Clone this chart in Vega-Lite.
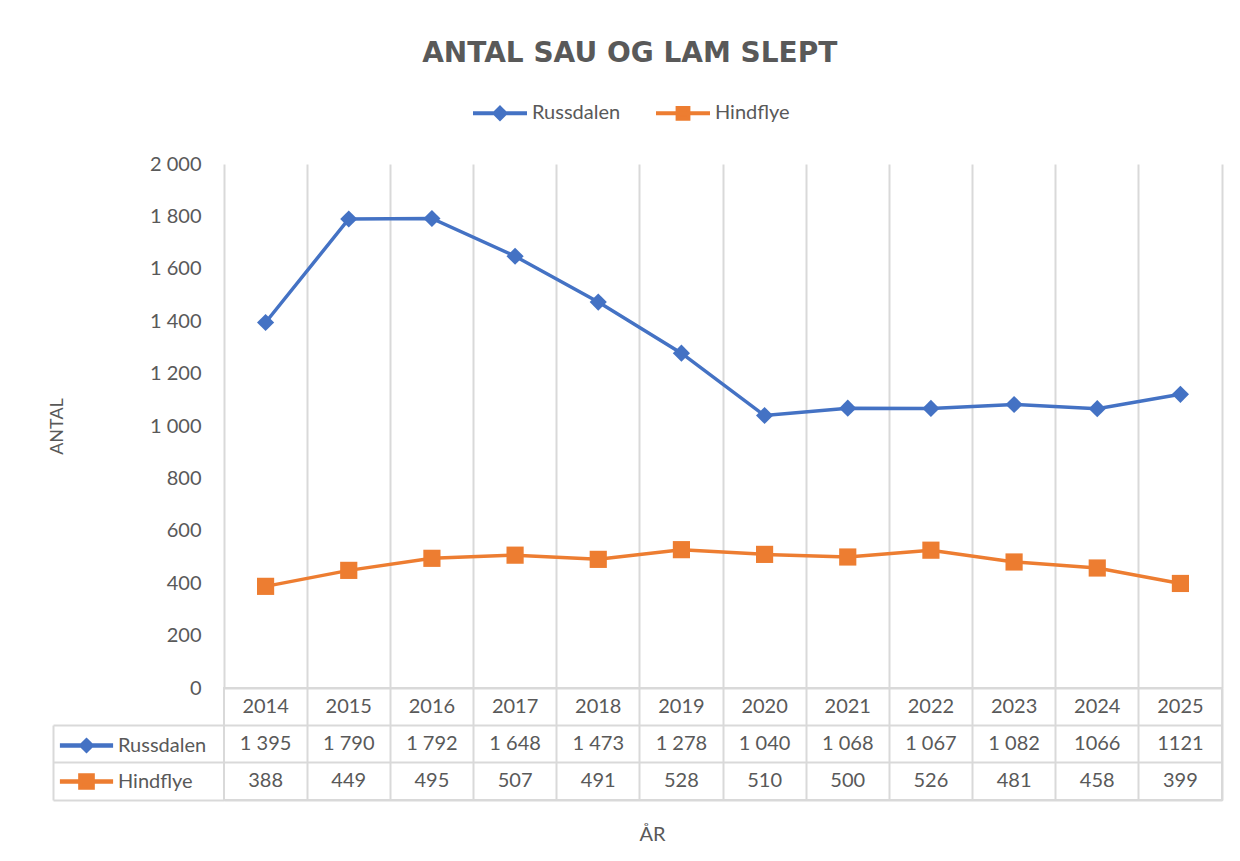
{
  "$schema": "https://vega.github.io/schema/vega-lite/v6.json",
  "background": "white",
  "padding": {"left": 48, "top": 40, "right": 18, "bottom": 10},
  "config": {
    "font": "Lato",
    "view": {"stroke": null},
    "axis": {"labelFont": "Lato", "titleFont": "Lato", "labelColor": "#595959", "titleColor": "#595959", "labelFontSize": 20, "titleFontSize": 18, "titleFontWeight": "normal"},
    "legend": {"labelFont": "Lato", "labelFontSize": 20, "labelColor": "#595959", "padding": 0, "title": null}
  },
  "title": {"text": "ANTAL SAU OG LAM SLEPT", "font": "DejaVu Sans", "fontSize": 28, "fontWeight": "bold", "color": "#595959", "anchor": "middle", "offset": 16, "dx": -6},
  "data": {"values": [
    {"year": "2014", "series": "Russdalen", "value": 1395, "label": "1 395"},
    {"year": "2015", "series": "Russdalen", "value": 1790, "label": "1 790"},
    {"year": "2016", "series": "Russdalen", "value": 1792, "label": "1 792"},
    {"year": "2017", "series": "Russdalen", "value": 1648, "label": "1 648"},
    {"year": "2018", "series": "Russdalen", "value": 1473, "label": "1 473"},
    {"year": "2019", "series": "Russdalen", "value": 1278, "label": "1 278"},
    {"year": "2020", "series": "Russdalen", "value": 1040, "label": "1 040"},
    {"year": "2021", "series": "Russdalen", "value": 1068, "label": "1 068"},
    {"year": "2022", "series": "Russdalen", "value": 1067, "label": "1 067"},
    {"year": "2023", "series": "Russdalen", "value": 1082, "label": "1 082"},
    {"year": "2024", "series": "Russdalen", "value": 1066, "label": "1066"},
    {"year": "2025", "series": "Russdalen", "value": 1121, "label": "1121"},
    {"year": "2014", "series": "Hindflye", "value": 388, "label": "388"},
    {"year": "2015", "series": "Hindflye", "value": 449, "label": "449"},
    {"year": "2016", "series": "Hindflye", "value": 495, "label": "495"},
    {"year": "2017", "series": "Hindflye", "value": 507, "label": "507"},
    {"year": "2018", "series": "Hindflye", "value": 491, "label": "491"},
    {"year": "2019", "series": "Hindflye", "value": 528, "label": "528"},
    {"year": "2020", "series": "Hindflye", "value": 510, "label": "510"},
    {"year": "2021", "series": "Hindflye", "value": 500, "label": "500"},
    {"year": "2022", "series": "Hindflye", "value": 526, "label": "526"},
    {"year": "2023", "series": "Hindflye", "value": 481, "label": "481"},
    {"year": "2024", "series": "Hindflye", "value": 458, "label": "458"},
    {"year": "2025", "series": "Hindflye", "value": 399, "label": "399"}
  ]},
  "spacing": 0,
  "bounds": "flush",
  "resolve": {"scale": {"color": "independent"}, "legend": {"color": "independent"}},
  "vconcat": [
    {
      "width": 998,
      "height": 524,
      "layer": [
        {
          "mark": {"type": "line", "strokeWidth": 3.5},
          "encoding": {
            "x": {"field": "year", "type": "ordinal", "bandPosition": 0.5, "scale": {"type": "band", "paddingInner": 0, "paddingOuter": 0},
              "axis": {"title": null, "labels": false, "ticks": false, "domain": true, "domainColor": "#D9D9D9", "domainWidth": 2, "grid": true, "gridColor": "#D9D9D9", "gridWidth": 2, "bandPosition": 1}},
            "y": {"field": "value", "type": "quantitative", "scale": {"domain": [0, 2000], "nice": false},
              "axis": {"title": "ANTAL", "values": [0, 200, 400, 600, 800, 1000, 1200, 1400, 1600, 1800, 2000], "labelExpr": "replace(format(datum.value, ','), ',', ' ')", "grid": false, "ticks": false, "domain": true, "domainColor": "#D9D9D9", "domainWidth": 2, "labelPadding": 23, "titlePadding": 83}},
            "color": {"field": "series", "type": "nominal", "scale": {"domain": ["Russdalen", "Hindflye"], "range": ["#4472C4", "#ED7D31"]},
              "legend": {"orient": "none", "legendX": 247, "legendY": -80, "direction": "horizontal", "symbolSize": 2916, "labelOffset": 3, "columnPadding": 27,
                "encode": {"symbols": {"update": {
                  "shape": {"signal": "datum.value === 'Russdalen' ? 'M-1,0L1,0M0,-0.2L0.2,0L0,0.2L-0.2,0Z' : 'M-1,0L1,0M-0.2,-0.2L0.2,-0.2L0.2,0.2L-0.2,0.2Z'"},
                  "fill": {"signal": "datum.value === 'Russdalen' ? '#4472C4' : '#ED7D31'"},
                  "stroke": {"signal": "datum.value === 'Russdalen' ? '#4472C4' : '#ED7D31'"},
                  "strokeWidth": {"value": 4},
                  "opacity": {"value": 1}
                }}}}}
          }
        },
        {
          "mark": {"type": "point", "filled": true, "opacity": 1, "size": 295},
          "encoding": {
            "x": {"field": "year", "type": "ordinal", "bandPosition": 0.5},
            "y": {"field": "value", "type": "quantitative"},
            "color": {"field": "series", "type": "nominal", "legend": null},
            "shape": {"field": "series", "type": "nominal", "scale": {"domain": ["Russdalen", "Hindflye"], "range": ["diamond", "square"]}, "legend": null}
          }
        }
      ]
    },
    {
      "width": 998,
      "height": 112,
      "view": {"stroke": "#D9D9D9", "strokeWidth": 2},
      "layer": [
        {
          "transform": [{"filter": "datum.series === 'Russdalen'"}],
          "mark": {"type": "text", "fontSize": 20, "color": "#595959", "font": "Lato"},
          "encoding": {
            "x": {"field": "year", "type": "ordinal", "scale": {"type": "band", "paddingInner": 0, "paddingOuter": 0},
              "axis": {"title": "ÅR", "labels": false, "ticks": false, "domain": false, "grid": true, "gridColor": "#D9D9D9", "gridWidth": 2, "bandPosition": 1, "titlePadding": 24, "titleX": 428, "titleFontSize": 20}},
            "y": {"datum": "ÅR", "type": "nominal", "scale": {"type": "band", "domain": ["ÅR", "Russdalen", "Hindflye"], "paddingInner": 0, "paddingOuter": 0},
              "axis": {"title": null, "labels": false, "offset": 171, "domain": true, "domainColor": "#D9D9D9", "domainWidth": 2, "domainDash": [0, 37, 200], "ticks": true, "tickSize": -171, "tickColor": "#D9D9D9", "tickWidth": 2, "grid": true, "gridColor": "#D9D9D9", "gridWidth": 2, "bandPosition": 1}},
            "text": {"field": "year"}
          }
        },
        {
          "mark": {"type": "text", "fontSize": 20, "color": "#595959", "font": "Lato"},
          "encoding": {
            "x": {"field": "year", "type": "ordinal"},
            "y": {"field": "series", "type": "nominal"},
            "text": {"field": "label"}
          }
        },
        {
          "mark": {"type": "line", "opacity": 0},
          "encoding": {
            "x": {"field": "year", "type": "ordinal"},
            "y": {"field": "series", "type": "nominal"},
            "color": {"field": "series", "type": "nominal", "scale": {"domain": ["Russdalen", "Hindflye"], "range": ["#4472C4", "#ED7D31"]},
              "legend": {"orient": "none", "legendX": -159, "legendY": 36, "direction": "vertical", "symbolSize": 1444, "labelOffset": 10, "rowPadding": 0,
                "encode": {"symbols": {"update": {
                  "shape": {"signal": "datum.value === 'Russdalen' ? 'M-1.4,0L1.4,0M0,-0.26L0.26,0L0,0.26L-0.26,0Z' : 'M-1.4,0L1.4,0M-0.32,-0.32L0.32,-0.32L0.32,0.32L-0.32,0.32Z'"},
                  "fill": {"signal": "datum.value === 'Russdalen' ? '#4472C4' : '#ED7D31'"},
                  "stroke": {"signal": "datum.value === 'Russdalen' ? '#4472C4' : '#ED7D31'"},
                  "strokeWidth": {"value": 4.5},
                  "opacity": {"value": 1}
                }}}}}
          }
        }
      ]
    }
  ]
}
